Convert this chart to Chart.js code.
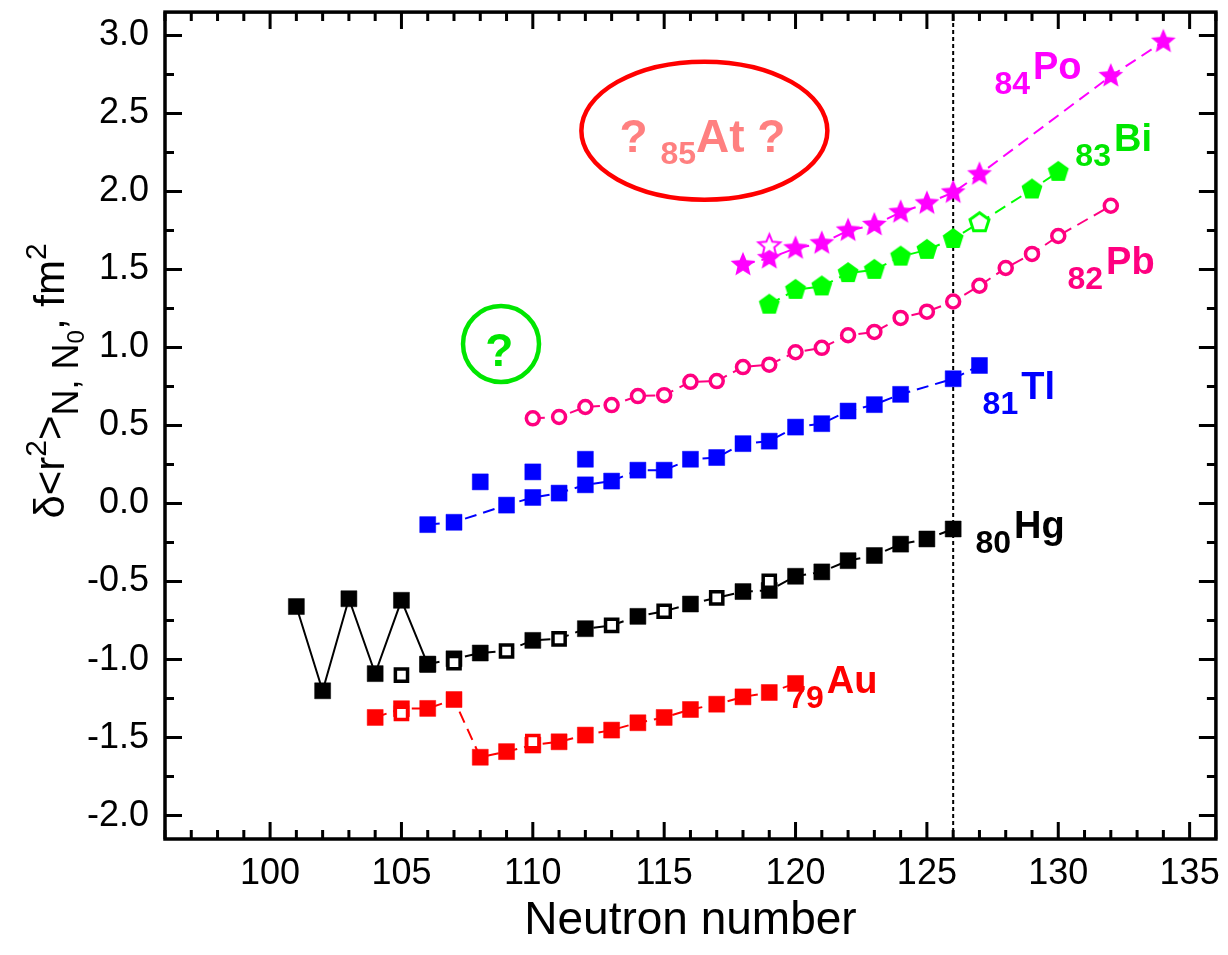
<!DOCTYPE html>
<html lang="en">
<head>
    <meta charset="UTF-8">
    <title>Charge radii</title>
    <script src="https://cdn.jsdelivr.net/npm/chart.js"></script>
    <style>
        html, body { margin: 0; padding: 0; background: #fff; }
    </style>
</head>
<body>
    <canvas id="radiiChart" width="1228" height="955"></canvas>

    <script>
        // axis ranges and labelled ticks
        const xMin = 96, xMax = 136;
        const yMin = -2.15, yMax = 3.15;
        const xTicks = [100, 105, 110, 115, 120, 125, 130, 135];
        const yTicks = [-2.0, -1.5, -1.0, -0.5, 0.0, 0.5, 1.0, 1.5, 2.0, 2.5, 3.0];

        // 79Au
        const auN = [104, 105, 106, 107, 108, 109, 110, 111, 112, 113, 114, 115, 116, 117, 118, 119, 120];
        const auR = [-1.371, -1.315, -1.313, -1.256, -1.626, -1.59, -1.548, -1.527, -1.484, -1.452, -1.405, -1.371, -1.32, -1.286, -1.239, -1.211, -1.153];
        const auOpenN = [105, 110];
        const auOpenR = [-1.345, -1.526];

        // 80Hg
        const hgZigN = [101, 102, 103, 104, 105, 106];
        const hgZigR = [-0.66, -1.20, -0.61, -1.09, -0.62, -1.03];
        const hgN = [106, 107, 108, 110, 112, 114, 116, 118, 119, 120, 121, 122, 123, 124, 125, 126];
        const hgR = [-1.03, -0.995, -0.958, -0.877, -0.802, -0.723, -0.644, -0.564, -0.557, -0.466, -0.438, -0.366, -0.333, -0.26, -0.227, -0.163];
        const hgOpenN = [105, 107, 109, 111, 113, 115, 117, 119];
        const hgOpenR = [-1.10, -1.02, -0.945, -0.867, -0.781, -0.69, -0.604, -0.498];

        // 81Tl
        const tlN = [106, 107, 109, 110, 111, 112, 113, 114, 115, 116, 117, 118, 119, 120, 121, 122, 123, 124, 126, 127];
        const tlR = [-0.135, -0.12, -0.01, 0.039, 0.067, 0.12, 0.144, 0.214, 0.214, 0.284, 0.295, 0.384, 0.40, 0.49, 0.512, 0.593, 0.634, 0.70, 0.80, 0.885];
        const tlIsoN = [108, 110, 112];
        const tlIsoR = [0.139, 0.203, 0.284];

        // 82Pb
        const pbN = [110, 111, 112, 113, 114, 115, 116, 117, 118, 119, 120, 121, 122, 123, 124, 125, 126, 127, 128, 129, 130, 132];
        const pbR = [0.546, 0.555, 0.619, 0.631, 0.689, 0.695, 0.78, 0.785, 0.875, 0.89, 0.97, 0.998, 1.079, 1.10, 1.19, 1.23, 1.295, 1.396, 1.51, 1.60, 1.715, 1.909];

        // 83Bi
        const biN = [119, 120, 121, 122, 123, 124, 125, 126, 129, 130];
        const biR = [1.275, 1.37, 1.392, 1.477, 1.498, 1.583, 1.626, 1.696, 2.013, 2.126];
        const biOpenN = [127];
        const biOpenR = [1.80];

        // 84Po
        const poN = [118, 119, 120, 121, 122, 123, 124, 125, 126, 127, 132, 134];
        const poR = [1.53, 1.573, 1.636, 1.668, 1.75, 1.786, 1.867, 1.924, 1.994, 2.11, 2.74, 2.96];
        const poOpenN = [119];
        const poOpenR = [1.652];

        // N = 126 shell closure
        const magicN = 126;

        const RED = '#ff0000', BLUE = '#0000ff', PINK = '#ff0080', GREEN = '#00ff00', MAGENTA = '#ff00ff';
        const FONT = '"Liberation Sans", Arial, sans-serif';
        Chart.defaults.font.family = FONT;
        Chart.defaults.color = '#000';

        function pts(ns, rs) {
            return ns.map((n, i) => ({ x: n, y: rs[i] }));
        }

        // one point per N, filled value wins over open one
        function joined(aN, aR, bN, bR, from) {
            const m = new Map();
            bN.forEach((n, i) => m.set(n, bR[i]));
            aN.forEach((n, i) => m.set(n, aR[i]));
            return [...m.keys()].filter(n => n >= from).sort((p, q) => p - q)
                .map(n => ({ x: n, y: m.get(n) }));
        }

        function shapeImage(kind, r, fill, stroke, lw) {
            const c = document.createElement('canvas');
            const s = Math.ceil(2 * r + lw + 4);
            c.width = c.height = s;
            const g = c.getContext('2d');
            g.translate(s / 2, s / 2);
            g.beginPath();
            const n = kind === 'star' ? 10 : 5;
            for (let k = 0; k < n; k++) {
                const rr = (kind === 'star' && k % 2) ? r * 0.45 : r;
                const a = -Math.PI / 2 + k * 2 * Math.PI / n;
                g.lineTo(rr * Math.cos(a), rr * Math.sin(a));
            }
            g.closePath();
            g.fillStyle = fill;
            g.fill();
            if (lw) {
                g.lineWidth = lw;
                g.strokeStyle = stroke;
                g.stroke();
            }
            return c;
        }

        const dash = [12, 7];

        function lineSet(data, color, d) {
            return {
                data, showLine: true, borderColor: color, borderWidth: 2,
                borderDash: d, pointRadius: 0, fill: false, order: 10
            };
        }

        function markSet(data, style, radius, fill, stroke, bw, order) {
            return {
                data, showLine: false, pointStyle: style, pointRadius: radius,
                pointBackgroundColor: fill, pointBorderColor: stroke, pointBorderWidth: bw,
                pointHoverRadius: radius, order
            };
        }

        const starFull = shapeImage('star', 13, MAGENTA, MAGENTA, 0);
        const starOpen = shapeImage('star', 11.5, '#fff', MAGENTA, 2);
        const pentFull = shapeImage('pent', 11, GREEN, GREEN, 0);
        const pentOpen = shapeImage('pent', 10, '#fff', GREEN, 3);

        const datasets = [
            // reference line at N = 126
            {
                data: [{ x: magicN, y: yMin }, { x: magicN, y: yMax }], showLine: true,
                borderColor: '#000', borderWidth: 2, borderDash: [4, 3], pointRadius: 0, order: 20
            },

            lineSet(pts(auN, auR), RED, dash),
            lineSet(pts(hgZigN, hgZigR), '#000', []),
            lineSet(joined(hgN, hgR, hgOpenN, hgOpenR, 106), '#000', dash),
            lineSet(pts(tlN, tlR), BLUE, dash),
            lineSet(pts(pbN, pbR), PINK, dash),
            lineSet(joined(biN, biR, biOpenN, biOpenR, 119), GREEN, dash),
            lineSet(pts(poN, poR), MAGENTA, dash),

            markSet(pts(auN, auR), 'rect', 11.3, RED, RED, 0.5, 5),
            markSet(pts(auOpenN, auOpenR), 'rect', 8.6, '#fff', RED, 3.5, 1),
            markSet(pts(hgZigN, hgZigR), 'rect', 11.3, '#000', '#000', 0.5, 5),
            markSet(pts(hgN, hgR), 'rect', 11.3, '#000', '#000', 0.5, 5),
            markSet(pts(hgOpenN, hgOpenR), 'rect', 8.6, '#fff', '#000', 3.5, 1),
            markSet(pts(tlN, tlR), 'rect', 11.3, BLUE, BLUE, 0.5, 5),
            markSet(pts(tlIsoN, tlIsoR), 'rect', 11.3, BLUE, BLUE, 0.5, 5),
            markSet(pts(pbN, pbR), 'circle', 6.5, '#fff', PINK, 3.5, 1),
            markSet(pts(biN, biR), pentFull, 10, GREEN, GREEN, 0, 5),
            markSet(pts(biOpenN, biOpenR), pentOpen, 10, '#fff', GREEN, 0, 1),
            markSet(pts(poN, poR), starFull, 12, MAGENTA, MAGENTA, 0, 5),
            markSet(pts(poOpenN, poOpenR), starOpen, 12, '#fff', MAGENTA, 0, 1)
        ];

        function onStep(v, step) {
            return Math.abs(v / step - Math.round(v / step)) < 1e-6;
        }

        // frame with inward ticks on all four sides
        const frame = {
            id: 'frame',
            afterDatasetsDraw(chart) {
                const { ctx, chartArea: a, scales: { x, y } } = chart;
                ctx.save();
                ctx.strokeStyle = '#000';
                ctx.lineWidth = 3;
                ctx.beginPath();
                for (let n = Math.ceil(xMin); n <= xMax; n++) {
                    const px = x.getPixelForValue(n);
                    const len = n % 5 === 0 ? 17 : 9;
                    ctx.moveTo(px, a.bottom); ctx.lineTo(px, a.bottom - len);
                    ctx.moveTo(px, a.top); ctx.lineTo(px, a.top + len);
                }
                for (let v = -2; v <= 3.001; v += 0.25) {
                    const py = y.getPixelForValue(v);
                    const len = onStep(v, 0.5) ? 17 : 9;
                    ctx.moveTo(a.left, py); ctx.lineTo(a.left + len, py);
                    ctx.moveTo(a.right, py); ctx.lineTo(a.right - len, py);
                }
                ctx.stroke();
                ctx.lineWidth = 3.5;
                ctx.strokeRect(a.left, a.top, a.width, a.height);
                ctx.restore();
            }
        };

        // runs of text with raised / lowered parts
        function drawRuns(ctx, x, y, runs, color) {
            ctx.fillStyle = color;
            ctx.textBaseline = 'alphabetic';
            ctx.textAlign = 'left';
            for (const r of runs) {
                ctx.font = (r.bold ? 'bold ' : '') + r.size + 'px ' + FONT;
                ctx.fillText(r.t, x, y + (r.dy || 0));
                x += ctx.measureText(r.t).width + (r.gap || 0);
            }
            return x;
        }

        function elementLabel(ctx, x, y, num, sym, color) {
            drawRuns(ctx, x, y, [
                { t: num, size: 32, bold: true, gap: 3 },
                { t: sym, size: 38, bold: true, dy: -15 }
            ], color);
        }

        const notes = {
            id: 'notes',
            afterDraw(chart) {
                const { ctx, scales: { x, y } } = chart;
                const X = n => x.getPixelForValue(n), Y = v => y.getPixelForValue(v);
                ctx.save();

                // astatine: open question
                ctx.strokeStyle = RED;
                ctx.lineWidth = 4.5;
                ctx.beginPath();
                ctx.ellipse(X(116.53), Y(2.39), 123, 69, 0, 0, 2 * Math.PI);
                ctx.stroke();
                drawRuns(ctx, X(113.3), Y(2.254), [
                    { t: '?', size: 46, bold: true },
                    { t: ' ', size: 46, bold: true },
                    { t: '85', size: 32, bold: true, dy: 12 },
                    { t: 'At', size: 46, bold: true },
                    { t: ' ?', size: 46, bold: true }
                ], '#ff8080');

                ctx.strokeStyle = '#00e600';
                ctx.lineWidth = 4.5;
                ctx.beginPath();
                ctx.arc(X(108.79), Y(1.023), 38, 0, 2 * Math.PI);
                ctx.stroke();
                ctx.fillStyle = '#00e600';
                ctx.font = 'bold 46px ' + FONT;
                ctx.textAlign = 'center';
                ctx.textBaseline = 'alphabetic';
                ctx.fillText('?', X(108.72), Y(1.023) + 22);

                elementLabel(ctx, X(127.57), Y(2.625), '84', 'Po', MAGENTA);
                elementLabel(ctx, X(130.65), Y(2.165), '83', 'Bi', '#00e600');
                elementLabel(ctx, X(130.35), Y(1.373), '82', 'Pb', PINK);
                elementLabel(ctx, X(127.12), Y(0.574), '81', 'Tl', BLUE);
                elementLabel(ctx, X(126.85), Y(-0.32), '80', 'Hg', '#000');
                elementLabel(ctx, X(119.72), Y(-1.31), '79', 'Au', RED);

                // y axis title
                ctx.translate(64, 381);
                ctx.rotate(-Math.PI / 2);
                const runs = [
                    { t: '\u03b4<r', size: 42 },
                    { t: '2', size: 30, dy: -18 },
                    { t: '>', size: 42 },
                    { t: 'N, N', size: 36, dy: 14 },
                    { t: '0', size: 24, dy: 20 },
                    { t: ', fm', size: 42 },
                    { t: '2', size: 30, dy: -18 }
                ];
                let w = 0;
                for (const r of runs) {
                    ctx.font = r.size + 'px ' + FONT;
                    w += ctx.measureText(r.t).width;
                }
                drawRuns(ctx, -w / 2, 0, runs, '#000');
                ctx.restore();
            }
        };

        const ctx = document.getElementById('radiiChart').getContext('2d');
        new Chart(ctx, {
            type: 'scatter',
            data: { datasets },
            options: {
                responsive: false,
                animation: false,
                devicePixelRatio: 1,
                layout: { padding: { top: 10, right: 9, left: 0, bottom: 0 } },
                plugins: { legend: { display: false }, tooltip: { enabled: false } },
                scales: {
                    x: {
                        type: 'linear', min: xMin, max: xMax,
                        afterBuildTicks: s => { s.ticks = xTicks.map(v => ({ value: v })); },
                        afterFit: s => { s.height = 116; s.paddingLeft = 0; s.paddingRight = 0; },
                        ticks: { autoSkip: false, maxRotation: 0, padding: 13, font: { size: 36 }, color: '#000' },
                        grid: { display: false, drawTicks: false },
                        border: { display: false },
                        title: { display: true, text: 'Neutron number', font: { size: 46 }, color: '#000', padding: { top: 0, bottom: 6 } }
                    },
                    y: {
                        type: 'linear', min: yMin, max: yMax,
                        afterBuildTicks: s => { s.ticks = yTicks.map(v => ({ value: v })); },
                        afterFit: s => { s.width = 165; s.paddingTop = 0; s.paddingBottom = 0; },
                        ticks: { autoSkip: false, padding: 16, font: { size: 36 }, color: '#000',
                                 callback: v => v.toFixed(1) },
                        grid: { display: false, drawTicks: false },
                        border: { display: false }
                    }
                }
            },
            plugins: [frame, notes]
        });
    </script>
</body>
</html>
